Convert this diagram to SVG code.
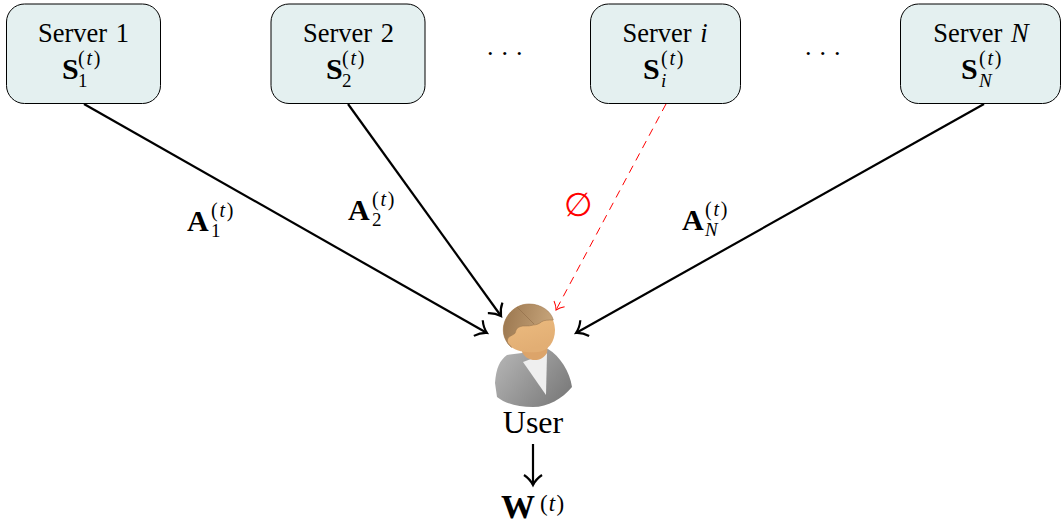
<svg xmlns="http://www.w3.org/2000/svg" width="1061" height="525" viewBox="0 0 1061 525">
<style>
text{font-family:"Liberation Serif","Times New Roman",serif;fill:#000}
.box{fill:#e4f0f0;stroke:#000;stroke-width:1}
.t{font-size:26.500px;text-anchor:middle;word-spacing:2px}
.b{font-size:30px;font-weight:bold}
.sup{font-size:20px;letter-spacing:1.800px}
.i{font-style:italic}
.sub{font-size:19px}
.dots{font-size:26px;letter-spacing:8px}
.con{fill:none;stroke:#000;stroke-width:2.200}
.red{fill:none;stroke:#f00;stroke-width:1}
</style>
<defs>
<marker id="ah" markerUnits="userSpaceOnUse" markerWidth="18" markerHeight="22" refX="13" refY="11" orient="auto"><path d="M3 2Q7 8 13 11Q7 14 3 20" fill="none" stroke="#000" stroke-width="2.200"/></marker>
<marker id="ahr" markerUnits="userSpaceOnUse" markerWidth="14" markerHeight="16" refX="10" refY="8" orient="auto"><path d="M3 2Q6 6 10 8Q6 10 3 14" fill="none" stroke="#f00" stroke-width="1"/></marker>
<linearGradient id="hair" x1="0" y1="0.300" x2="1" y2="0.500"><stop offset="0" stop-color="#9c7850"/><stop offset="1" stop-color="#c8a67c"/></linearGradient>
<linearGradient id="face" x1="0" y1="0" x2="0.300" y2="1"><stop offset="0" stop-color="#f0c184"/><stop offset="1" stop-color="#e2ae74"/></linearGradient>
<linearGradient id="suit" x1="0" y1="0" x2="1" y2="0.600"><stop offset="0" stop-color="#b8b8b8"/><stop offset="1" stop-color="#7e7e7e"/></linearGradient>
</defs>
<g id="connectors">
<path class="con" d="M84 104L487 333" marker-end="url(#ah)"/>
<path class="con" d="M348 104L501 316" marker-end="url(#ah)"/>
<path class="red" stroke-dasharray="8 6" d="M666 104L556 310" marker-end="url(#ahr)"/>
<path class="con" d="M984 104L576 333" marker-end="url(#ah)"/>
<path class="con" d="M533 444V485" marker-end="url(#ah)"/>
</g>
<g id="server1"><rect class="box" x="6.500" y="4" width="154" height="99.500" rx="18"/>
<text class="t" x="83.500" y="42">Server 1</text>
<text class="b" x="62" y="79">S</text><text class="sup" x="78" y="65">(<tspan class="i">t</tspan>)</text><text class="sub" x="78" y="87">1</text></g>
<g id="server2"><rect class="box" x="271" y="4" width="154" height="99.500" rx="18"/>
<text class="t" x="348.500" y="42">Server 2</text>
<text class="b" x="326" y="79">S</text><text class="sup" x="342" y="65">(<tspan class="i">t</tspan>)</text><text class="sub" x="342" y="87">2</text></g>
<g id="serveri"><rect class="box" x="590.500" y="4" width="150" height="99.500" rx="18"/>
<text class="t" x="665" y="42">Server <tspan class="i">i</tspan></text>
<text class="b" x="643" y="79">S</text><text class="sup" x="661" y="65">(<tspan class="i">t</tspan>)</text><text class="sub i" x="661" y="87">i</text></g>
<g id="serverN"><rect class="box" x="900.500" y="4" width="160" height="99.500" rx="18"/>
<text class="t" x="981" y="42">Server <tspan class="i">N</tspan></text>
<text class="b" x="961" y="79">S</text><text class="sup" x="979" y="65">(<tspan class="i">t</tspan>)</text><text class="sub i" x="979" y="87">N</text></g>
<text class="dots" x="487" y="55">...</text>
<text class="dots" x="805" y="55">...</text>
<g id="labelA1"><text class="b" x="187" y="231">A</text><text class="sup" x="211" y="217">(<tspan class="i">t</tspan>)</text><text class="sub" x="211" y="237">1</text></g>
<g id="labelA2"><text class="b" x="348" y="220">A</text><text class="sup" x="372" y="206">(<tspan class="i">t</tspan>)</text><text class="sub" x="372" y="226">2</text></g>
<g id="labelAN"><text class="b" x="682" y="230">A</text><text class="sup" x="705" y="216">(<tspan class="i">t</tspan>)</text><text class="sub i" x="705" y="236">N</text></g>
<text x="578" y="216" font-size="33" text-anchor="middle" style="fill:#f00;font-family:'DejaVu Sans',sans-serif">∅</text>
<g id="user">
<path d="M495 383C496 368 500 360 507 355L522 353L548 349C560 356 570 372 572 387C562 399 548 407 533 407C518 407 506 404 497 397Z" fill="url(#suit)"/>
<path d="M523 362L547 353L546 395Z" fill="#efefef"/>
<path d="M522 352C526 361 540 364 547 353L548 344L522 344Z" fill="#dca46a"/>
<path d="M503.300 330C503.300 316 515 304 529 304C544 304 555 316 555 330C555 342 548 351 538 352C530 353 518 352 511 347C506 342 503.300 336 503.300 330Z" fill="url(#face)"/>
<path d="M503.300 330C503.300 316 515 304 529 304C541 304 551 311 553.300 320C548 320 544.500 320 541.700 321.700C539 324 536 325 533.300 325C528 327 523 325 520 326.700C516 328 516 331 515 333.300C512 336 508 336 507.300 340C507 343 509 345 511.700 347.300C506 343 503.300 336 503.300 330Z" fill="url(#hair)" stroke="#9d7950" stroke-width="0.600"/>
<path d="M517 307L534 324" stroke="#8e6c46" stroke-width="0.600" fill="none"/>
</g>
<text x="533" y="433" font-size="32" text-anchor="middle">User</text>
<g id="output"><text x="501" y="517.500" font-size="34" font-weight="bold">W</text><text x="540" y="511" font-size="23" letter-spacing="1.200">(<tspan class="i">t</tspan>)</text></g>
</svg>
